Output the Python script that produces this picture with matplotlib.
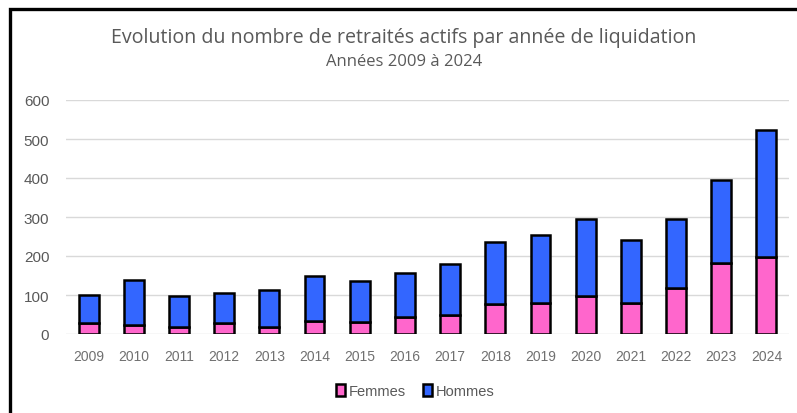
import matplotlib.pyplot as plt
import matplotlib.patches as mpatches
import numpy as np

plt.rcParams['font.family'] = ['Liberation Sans', 'DejaVu Sans']

years = ['2009', '2010', '2011', '2012', '2013', '2014', '2015', '2016',
         '2017', '2018', '2019', '2020', '2021', '2022', '2023', '2024']
femmes = [27, 24, 19, 27, 19, 34, 30, 44, 49, 76, 79, 98, 79, 118, 181, 197]
totaux = [100, 138, 97, 104, 114, 148, 137, 156, 179, 235, 254, 295, 242, 295, 396, 524]
hommes = [t - f for t, f in zip(totaux, femmes)]

PINK = '#FF66CC'
BLUE = '#3366FF'
GREY = '#595959'

fig = plt.figure(figsize=(7.97, 4.14), dpi=100)

# cadre du graphique (coupé à droite et en bas)
frame = mpatches.Rectangle((10 / 797, -0.1), 1.2, 1 - 10 / 414 + 0.1,
                           transform=fig.transFigure, fill=False,
                           edgecolor='black', linewidth=2.4)
fig.patches.append(frame)

ax = fig.add_axes([66 / 797, 1 - 335 / 414, (789 - 66) / 797, (335 - 101) / 414])

x = np.arange(len(years))
ax.bar(x, femmes, width=0.44, color=PINK, edgecolor='black', linewidth=1.8,
       label='Femmes', zorder=3)
ax.bar(x, hommes, width=0.44, bottom=femmes, color=BLUE, edgecolor='black',
       linewidth=1.8, label='Hommes', zorder=3)

ax.set_xlim(-0.5, len(years) - 0.5)
ax.set_ylim(0, 600)
ax.set_yticks(range(0, 601, 100))
ax.set_xticks(x)
ax.set_xticklabels(years)
ax.yaxis.grid(True, color='#D9D9D9', linewidth=1, zorder=0)
for s in ax.spines.values():
    s.set_visible(False)
ax.tick_params(length=0, colors=GREY)
ax.tick_params(axis='y', pad=12, labelsize=11)
ax.tick_params(axis='x', pad=11, labelsize=10, labelcolor='#707070')

fig.text(404 / 797, 1 - 38 / 414, 'Evolution du nombre de retraités actifs par année de liquidation',
         ha='center', va='center', fontsize=14.1, color=GREY, family='Open Sans')
fig.text(404 / 797, 1 - 62 / 414, 'Années 2009 à 2024',
         ha='center', va='center', fontsize=12, color=GREY, family='Open Sans')

fig.legend(loc='center', bbox_to_anchor=(415 / 797, 1 - 392 / 414), ncol=2,
           frameon=False, fontsize=10.5, handlelength=0.65, handleheight=0.9,
           handletextpad=0.2, columnspacing=1.2, labelcolor=GREY)

fig.savefig('out.png', dpi=100)
